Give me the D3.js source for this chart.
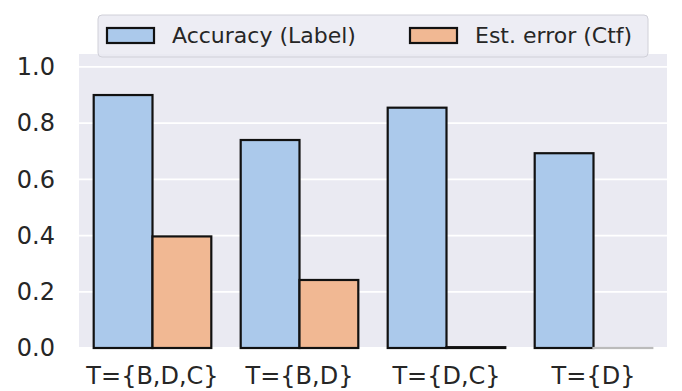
<!DOCTYPE html>
<html lang="en">
<head>
    <meta charset="UTF-8">
    <script src="https://d3js.org/d3.v7.min.js"></script>
    <style>
        body { margin: 0; padding: 0; background: #fff; }
        svg { display: block; font-family: "DejaVu Sans", sans-serif; }
    </style>
</head>
<body>
<script>
    // data
    var categories = ['T={B,D,C}', 'T={B,D}', 'T={D,C}', 'T={D}']
    var accuracy = [0.90, 0.74, 0.855, 0.693]
    var estError = [0.397, 0.242, 0.003, 0.0]
    var seriesNames = ['Accuracy (Label)', 'Est. error (Ctf)']
    var yTicks = [0.0, 0.2, 0.4, 0.6, 0.8, 1.0]

    var W = 682, H = 391
    var margin = { left: 79, right: 15, top: 54, bottom: 43 }
    var colors = ['#abc9eb', '#f1b893']

    var svg = d3.select('body').append('svg')
        .attr('width', W)
        .attr('height', H)

    var x0 = d3.scaleBand()
        .domain(categories)
        .range([margin.left, W - margin.right])
        .paddingInner(0.2)
        .paddingOuter(0.1)

    var x1 = d3.scaleBand()
        .domain([0, 1])
        .range([0, x0.bandwidth()])

    var y = d3.scaleLinear()
        .domain([0, 1.046])
        .range([H - margin.bottom, margin.top])

    // background
    svg.append('rect')
        .attr('x', margin.left)
        .attr('y', margin.top)
        .attr('width', W - margin.left - margin.right)
        .attr('height', H - margin.top - margin.bottom)
        .attr('fill', '#eaeaf2')

    // grid
    svg.append('g')
        .selectAll('line')
        .data(yTicks)
        .enter()
        .append('line')
        .attr('x1', margin.left)
        .attr('x2', W - margin.right)
        .attr('y1', function (d) { return y(d) })
        .attr('y2', function (d) { return y(d) })
        .attr('stroke', '#fff')
        .attr('stroke-width', 1.8)

    // y axis
    var yAxis = svg.append('g')
        .attr('transform', 'translate(' + margin.left + ',0)')
        .call(d3.axisLeft(y).tickValues(yTicks).tickFormat(d3.format('.1f')).tickSize(0).tickPadding(24))
    yAxis.select('.domain').remove()
    yAxis.selectAll('text')
        .attr('font-size', 24)
        .attr('fill', '#262626')
        .attr('font-family', '"DejaVu Sans", sans-serif')

    // x axis
    var xAxis = svg.append('g')
        .attr('transform', 'translate(0,' + (H - margin.bottom) + ')')
        .call(d3.axisBottom(x0).tickSize(0).tickPadding(19))
    xAxis.select('.domain').remove()
    xAxis.selectAll('text')
        .attr('font-size', 24)
        .attr('fill', '#262626')
        .attr('font-family', '"DejaVu Sans", sans-serif')

    // bars
    var series = [accuracy, estError]
    series.forEach(function (vals, si) {
        svg.append('g')
            .selectAll('rect')
            .data(vals)
            .enter()
            .append('rect')
            .attr('x', function (d, i) { return x0(categories[i]) + x1(si) })
            .attr('y', function (d) { return y(d) })
            .attr('width', x1.bandwidth())
            .attr('height', function (d) { return Math.max(0.01, y(0) - y(d)) })
            .attr('fill', colors[si])
            .attr('stroke', function (d) { return d > 0 ? '#111' : '#bbb' })
            .attr('stroke-width', 2.2)
    })

    // legend
    var lg = svg.append('g').attr('transform', 'translate(98,15)')
    lg.append('rect')
        .attr('width', 550)
        .attr('height', 42)
        .attr('rx', 4)
        .attr('fill', '#eaeaf2')
        .attr('fill-opacity', 0.85)
        .attr('stroke', '#d0d0d8')
        .attr('stroke-width', 1)

    var items = lg.selectAll('.item')
        .data(seriesNames)
        .enter()
        .append('g')
        .attr('transform', function (d, i) { return 'translate(' + (9 + i * 303) + ',0)' })
    items.append('rect')
        .attr('y', 13)
        .attr('width', 47)
        .attr('height', 15)
        .attr('fill', function (d, i) { return colors[i] })
        .attr('stroke', '#111')
        .attr('stroke-width', 2.2)
    items.append('text')
        .attr('x', 65)
        .attr('y', 28)
        .attr('font-size', 22)
        .attr('fill', '#262626')
        .text(function (d) { return d })
</script>
</body>
</html>
